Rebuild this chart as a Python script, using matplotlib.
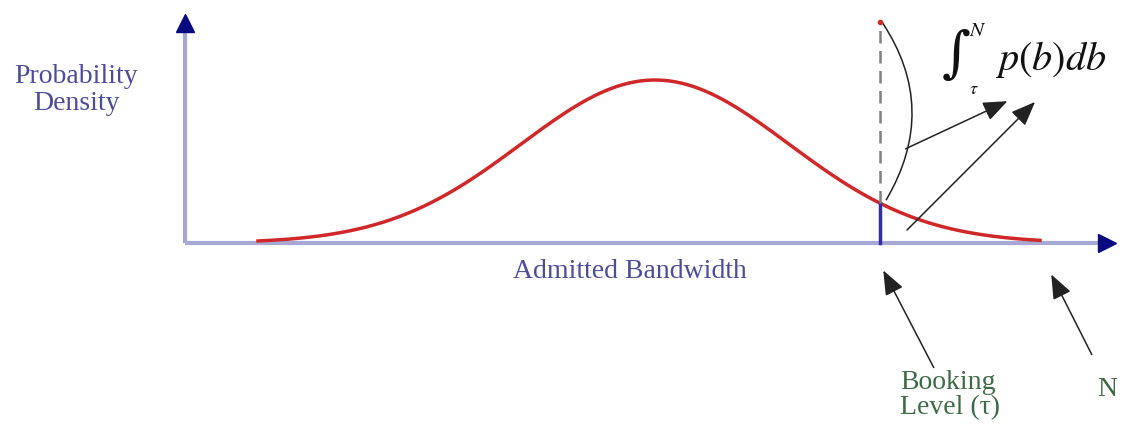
import numpy as np
import matplotlib.pyplot as plt
from matplotlib.path import Path
from matplotlib.patches import PathPatch

# Parametros da curva (unidades ~ pixels a partir da origem dos eixos)
mean_bw = 470
sigma_bw = 134
peak_density = 163
curve_start = 73
curve_end = 855
tau = 695
N = 855
x_axis_len = 930
y_axis_len = 228
dashed_top = 221

AXIS_COLOR = "#a8a8d4"
HEAD_COLOR = "#0a0a80"
TEXT_BLUE = "#4c4c9a"
TEXT_GREEN = "#3d6b45"

plt.rcParams["font.family"] = ["Liberation Serif", "DejaVu Serif"]
plt.rcParams["mathtext.fontset"] = "stix"

fig = plt.figure(figsize=(11.27, 4.37), dpi=100)
ax = fig.add_axes([0, 0, 1, 1])
ax.set_xlim(-185, 942)
ax.set_ylim(-194, 243)
ax.axis("off")

# eixos
ax.plot([0, 0], [0, y_axis_len - 6], color=AXIS_COLOR, lw=3, solid_capstyle="butt")
ax.plot([0, x_axis_len - 6], [0, 0], color=AXIS_COLOR, lw=3, solid_capstyle="butt")
ax.plot([0], [y_axis_len - 8], marker="^", ms=13, color=HEAD_COLOR, mec=HEAD_COLOR)
ax.plot([x_axis_len - 8], [0], marker=">", ms=13, color=HEAD_COLOR, mec=HEAD_COLOR)

# curva de densidade
x = np.linspace(curve_start, curve_end, 400)
y = peak_density * np.exp(-((x - mean_bw) ** 2) / (2 * sigma_bw ** 2))
ax.plot(x, y, color="#d02828", lw=2.5)

# nivel de reserva
y_tau = peak_density * np.exp(-((tau - mean_bw) ** 2) / (2 * sigma_bw ** 2))
ax.plot([tau, tau], [0, y_tau], color="#3030a0", lw=2.5)
ax.plot([tau, tau], [y_tau, dashed_top], color="#808080", lw=1.8, ls=(0, (5, 3)))
ax.plot([tau], [dashed_top], marker="o", ms=3, color="#d02828")

# chave curva
verts = [(tau + 2, dashed_top), (tau + 60, 134), (tau + 6, y_tau + 3)]
codes = [Path.MOVETO, Path.CURVE3, Path.CURVE3]
ax.add_patch(PathPatch(Path(verts, codes), fill=False, color="#222222", lw=1.1))

arrow_kw = dict(arrowstyle="-|>,head_length=1.0,head_width=0.4", color="#222222",
                lw=1.1, mutation_scale=15)
ax.annotate("", xy=(825, 143), xytext=(718, 93), arrowprops=arrow_kw)
ax.annotate("", xy=(852, 143), xytext=(720, 11), arrowprops=arrow_kw)
ax.annotate("", xy=(tau + 2, -25), xytext=(750, -127), arrowprops=arrow_kw)
ax.annotate("", xy=(N + 10, -29), xytext=(908, -114), arrowprops=arrow_kw)

# textos
ax.text(-109, 153, "Probability\nDensity", color=TEXT_BLUE, fontsize=20,
        ha="center", va="center", linespacing=1.1)
ax.text(445, -29, "Admitted Bandwidth", color=TEXT_BLUE, fontsize=20,
        ha="center", va="center")
ax.text(715, -127, "Booking\nLevel (\u03c4)", color=TEXT_GREEN, fontsize=20,
        ha="left", va="top", linespacing=1.0)
ax.text(912, -146, "N", color=TEXT_GREEN, fontsize=20, ha="left", va="center")

# integral
ax.text(771, 187, "\u222b", color="#111111", fontsize=40, ha="center", va="center",
        family=["DejaVu Serif"])
ax.text(784, 211, r"$N$", color="#111111", fontsize=15, ha="left", va="center")
ax.text(784, 154, r"$\tau$", color="#111111", fontsize=13, ha="left", va="center")
ax.text(810, 183, r"$p(b)db$", color="#111111", fontsize=29, ha="left", va="center")

fig.savefig("out.png", dpi=100, facecolor="white")
